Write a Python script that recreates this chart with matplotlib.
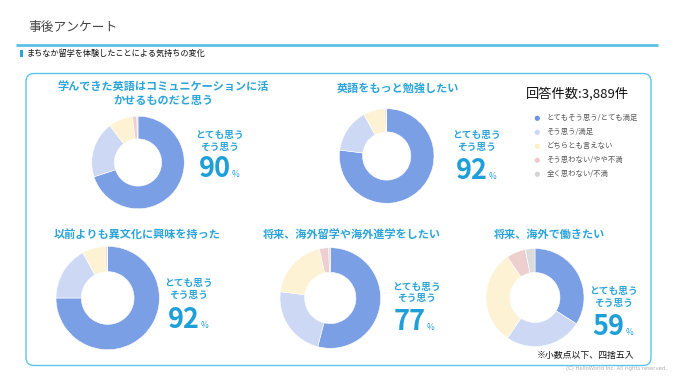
import matplotlib
matplotlib.use("Agg")
import matplotlib.pyplot as plt
from matplotlib.patches import FancyBboxPatch, Rectangle, Circle

plt.rcParams['font.family'] = ['Noto Sans CJK JP', 'DejaVu Sans']

# data
labels = ['とてもそう思う/とても満足', 'そう思う/満足', 'どちらとも言えない',
          'そう思わない/やや不満', '全く思わない/不満']
titles = ['学んできた英語はコミュニケーションに活\nかせるものだと思う',
          '英語をもっと勉強したい',
          '以前よりも異文化に興味を持った',
          '将来、海外留学や海外進学をしたい',
          '将来、海外で働きたい']
q1 = [70.0, 19.6, 8.5, 1.5, 0.4]
q2 = [77.0, 15.0, 7.3, 0.5, 0.2]
q3 = [75.0, 17.0, 7.2, 0.6, 0.2]
q4 = [54.0, 23.0, 19.5, 3.0, 0.5]
q5 = [34.0, 25.5, 31.0, 6.3, 3.2]
top2 = [90, 92, 92, 77, 59]
n_answers = '3,889'

colors = ['#7a9fe4', '#cdd9f4', '#fdf2d3', '#edcfcf', '#dcdcdc']
legend_colors = ['#6f93e0', '#cbd9f6', '#fdefc6', '#f0caca', '#d4d4d4']
blue = '#2ba4da'

W, H = 680, 383
fig = plt.figure(figsize=(W / 100, H / 100), dpi=100)
ax = fig.add_axes([0, 0, 1, 1])

def Y(y):
    return H - y

# header
ax.text(28, Y(27), '事後アンケート', fontsize=9.2, color='#444444', va='center', ha='left')
ax.plot([16, 658], [Y(44.5), Y(44.5)], color='#5bc0e6', lw=2, solid_capstyle='butt')
ax.add_patch(Rectangle((20, Y(57)), 2.5, 7, color=blue, lw=0))
ax.text(27, Y(53.5), 'まちなか留学を体験したことによる気持ちの変化', fontsize=5.9,
        color='#111111', va='center', ha='left')
ax.add_patch(FancyBboxPatch((26, Y(365.5)), 625, 292, boxstyle='round,pad=0,rounding_size=8',
                            fc='none', ec='#5ec3ea', lw=1))

# donuts: center x, center y, radius
layout = [(138, 162.5, 46.3), (386.7, 156, 47.3), (107.7, 298, 51.7),
          (330.3, 298, 50.3), (535, 297.5, 49)]
title_pos = [(163, 93.5), (398, 88.3), (136.7, 234), (351.7, 234), (549, 234)]
text_pos = [(219.5, 135, 231, 177), (477, 135, 488, 179), (188.7, 283.3, 200, 327.7),
            (416.7, 286.7, 425.5, 330), (614, 291, 624.5, 335)]

for vals, (cx, cy, r), title, (tx, ty), (lx, ly, nx, ny), pct in zip(
        [q1, q2, q3, q4, q5], layout, titles, title_pos, text_pos, top2):
    ax.pie(vals, colors=colors, center=(cx, Y(cy)), radius=r, startangle=90,
           counterclock=False, wedgeprops=dict(width=r * 0.49, edgecolor='white', linewidth=0.4))
    ax.text(tx, Y(ty), title, fontsize=8, fontweight='bold', color=blue,
            ha='center', va='center', linespacing=1.05)
    ax.text(lx, Y(ly), 'とても思う', fontsize=7, fontweight='bold', color=blue,
            ha='center', va='center')
    ax.text(lx, Y(ly + 11.7), 'そう思う', fontsize=7, fontweight='bold', color=blue,
            ha='center', va='center')
    ax.text(nx, Y(ny), str(pct), fontsize=19.5, fontweight='bold', color='#1e9fd8',
            ha='right', va='baseline')
    ax.text(nx + 1, Y(ny), '%', fontsize=6, color='#1e9fd8', ha='left', va='baseline')

# legend
ax.text(577.5, Y(94.3), '回答件数:' + n_answers + '件', fontsize=9.5, color='#111111',
        ha='center', va='center')
for i, (lab, c) in enumerate(zip(labels, legend_colors)):
    yy = 118.3 + i * 14
    ax.add_patch(Circle((537.3, Y(yy)), 2.6, color=c, lw=0))
    ax.text(546.5, Y(yy), lab, fontsize=5.3, color='#555555', ha='left', va='center')

ax.text(586, Y(355), '※小数点以下、四捨五入', fontsize=6.4, color='#111111', ha='center', va='center')
ax.text(667, Y(368.5), '(C) HelloWorld Inc. All rights reserved.', fontsize=3.8,
        color='#b0b0b0', ha='right', va='center', family='DejaVu Sans')

ax.set_xlim(0, W)
ax.set_ylim(0, H)
ax.set_aspect('auto')
ax.axis('off')

fig.savefig('out.png', dpi=100, facecolor='white')
